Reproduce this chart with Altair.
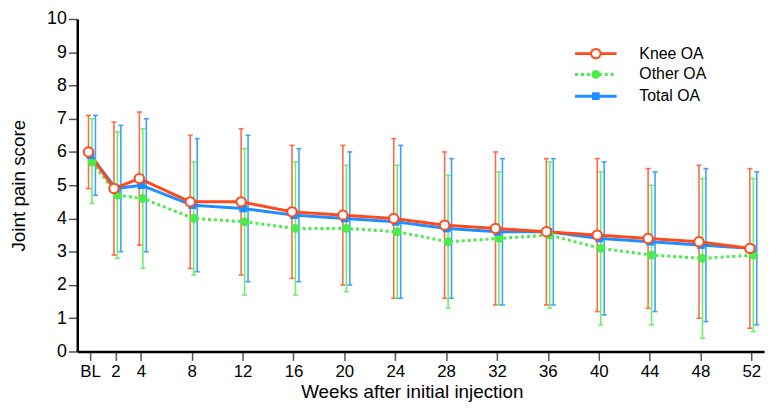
import altair as alt
import pandas as pd

weeks = [0, 2, 4, 8, 12, 16, 20, 24, 28, 32, 36, 40, 44, 48, 52]
series_names = ["Knee OA", "Other OA", "Total OA"]

knee_mean = [6.0, 4.9, 5.2, 4.5, 4.5, 4.2, 4.1, 4.0, 3.8, 3.7, 3.6, 3.5, 3.4, 3.3, 3.1]
knee_hi = [7.1, 6.9, 7.2, 6.5, 6.7, 6.2, 6.2, 6.4, 6.0, 6.0, 5.8, 5.8, 5.5, 5.6, 5.5]
knee_lo = [4.9, 2.9, 3.2, 2.5, 2.3, 2.2, 2.0, 1.6, 1.6, 1.4, 1.4, 1.2, 1.3, 1.0, 0.7]

other_mean = [5.7, 4.7, 4.6, 4.0, 3.9, 3.7, 3.7, 3.6, 3.3, 3.4, 3.5, 3.1, 2.9, 2.8, 2.9]
other_hi = [7.0, 6.6, 6.7, 5.7, 6.1, 5.7, 5.6, 5.6, 5.3, 5.4, 5.7, 5.4, 5.0, 5.2, 5.2]
other_lo = [4.45, 2.8, 2.5, 2.3, 1.7, 1.7, 1.8, 1.6, 1.3, 1.4, 1.3, 0.8, 0.8, 0.4, 0.6]

total_mean = [5.9, 4.9, 5.0, 4.4, 4.3, 4.1, 4.0, 3.9, 3.7, 3.6, 3.6, 3.4, 3.3, 3.2, 3.1]
total_hi = [7.1, 6.8, 7.0, 6.4, 6.5, 6.1, 6.0, 6.2, 5.8, 5.8, 5.8, 5.7, 5.4, 5.5, 5.4]
total_lo = [4.7, 3.0, 3.0, 2.4, 2.1, 2.1, 2.0, 1.6, 1.6, 1.4, 1.4, 1.1, 1.2, 0.9, 0.8]

FONT = "Liberation Sans"
W, H = 694, 336

frames = {
    "Knee OA": pd.DataFrame({"week": weeks, "mean": knee_mean, "lo": knee_lo, "hi": knee_hi}),
    "Other OA": pd.DataFrame({"week": weeks, "mean": other_mean, "lo": other_lo, "hi": other_hi}),
    "Total OA": pd.DataFrame({"week": weeks, "mean": total_mean, "lo": total_lo, "hi": total_hi}),
}

style = {
    "Knee OA": dict(line="#FF4A1C", bar="#FF6A4A", bar_off=-1.5, mk_off=-1.5, dash=[1, 0],
                    shape="circle", filled=False, fill="white", size=90),
    "Other OA": dict(line="#4CEB4C", bar="#6AF06A", bar_off=2.0, mk_off=2.0, dash=[3, 3],
                     shape="circle", filled=True, fill="#4CEB4C", size=80),
    "Total OA": dict(line="#1E8FFF", bar="#3FA0FF", bar_off=5.5, mk_off=0.5, dash=[1, 0],
                     shape="square", filled=True, fill="#1E8FFF", size=60),
}

x_scale = alt.Scale(domain=[-1, 53], nice=False, zero=False)
y_scale = alt.Scale(domain=[0, 10], nice=False, zero=True)

x_axis = alt.Axis(
    values=weeks, labelExpr="datum.value == 0 ? 'BL' : datum.label",
    title="Weeks after initial injection", grid=False, tickSize=9, tickWidth=1.5,
    tickColor="#555555", domainColor="black", domainWidth=2.5, labelFontSize=17,
    labelFont=FONT, labelColor="black", labelPadding=3, labelFlush=False, labelOverlap=False,
    titleFont=FONT, titleFontSize=19, titleFontWeight="normal", titleColor="black",
    titlePadding=4, titleX=338, titleAnchor="start", titleAlign="center",
)
y_axis = alt.Axis(
    values=list(range(0, 11)), tickCount=11, title="Joint pain score", grid=False, tickSize=9,
    tickWidth=1.5, tickColor="#555555", domainColor="black", domainWidth=2.5,
    labelFontSize=18, labelFont=FONT, labelColor="black", labelPadding=2,
    labelFlush=False, labelOverlap=False, titleFont=FONT, titleFontSize=19,
    titleFontWeight="normal", titleColor="black", titleX=-49, titleY=H / 2,
    titleAngle=270, titleAlign="center", titleBaseline="bottom",
)

X = alt.X("week:Q", scale=x_scale, axis=x_axis)


def Y(field):
    return alt.Y(f"{field}:Q", scale=y_scale, axis=y_axis)


layers = []

# error bars
for name in series_names:
    s = style[name]
    d = frames[name]
    base = alt.Chart(d)
    layers.append(
        base.mark_rule(color=s["bar"], strokeWidth=1.6, xOffset=s["bar_off"]).encode(
            x=X, y=Y("lo"), y2="hi:Q",
        )
    )
    for col in ["hi", "lo"]:
        layers.append(
            base.mark_rule(color=s["bar"], strokeWidth=1.6,
                           xOffset=s["bar_off"] - 2.5, x2Offset=s["bar_off"] + 2.5).encode(
                x=X, x2="week:Q", y=Y(col),
            )
        )

# lines (green, blue, red order)
for name in ["Other OA", "Total OA", "Knee OA"]:
    s = style[name]
    layers.append(
        alt.Chart(frames[name]).mark_line(
            color=s["line"], strokeWidth=3, strokeDash=s["dash"], xOffset=s["mk_off"]
        ).encode(x=X, y=Y("mean"))
    )

# markers
for name in ["Other OA", "Total OA", "Knee OA"]:
    s = style[name]
    layers.append(
        alt.Chart(frames[name]).mark_point(
            shape=s["shape"], filled=True, fill=s["fill"], stroke=s["line"],
            strokeWidth=2 if not s["filled"] else 0, size=s["size"], opacity=1,
            xOffset=s["mk_off"],
        ).encode(x=X, y=Y("mean"))
    )

# manual legend
legend_y = [35, 56, 78]
one = pd.DataFrame({"k": [0]})
for name, ly in zip(series_names, legend_y):
    s = style[name]
    lc = alt.Chart(one)
    layers.append(
        lc.mark_rule(color=s["line"], strokeWidth=3, strokeDash=s["dash"]).encode(
            x=alt.value(503), x2=alt.value(545), y=alt.value(ly)
        )
    )
    layers.append(
        lc.mark_point(shape=s["shape"], filled=True, fill=s["fill"], stroke=s["line"],
                      strokeWidth=2 if not s["filled"] else 0, size=s["size"], opacity=1).encode(
            x=alt.value(524), y=alt.value(ly)
        )
    )
    layers.append(
        lc.mark_text(text=name, align="left", baseline="middle", font=FONT, fontSize=16,
                     color="black").encode(x=alt.value(568), y=alt.value(ly))
    )

chart = alt.layer(*layers).properties(
    width=W, height=H,
    autosize=alt.AutoSizeParams(type="none"),
    padding={"left": 70, "top": 9, "right": 6, "bottom": 53},
).configure_view(stroke=None)

chart.save("out.html", embed_options={"renderer": "svg", "actions": False})
